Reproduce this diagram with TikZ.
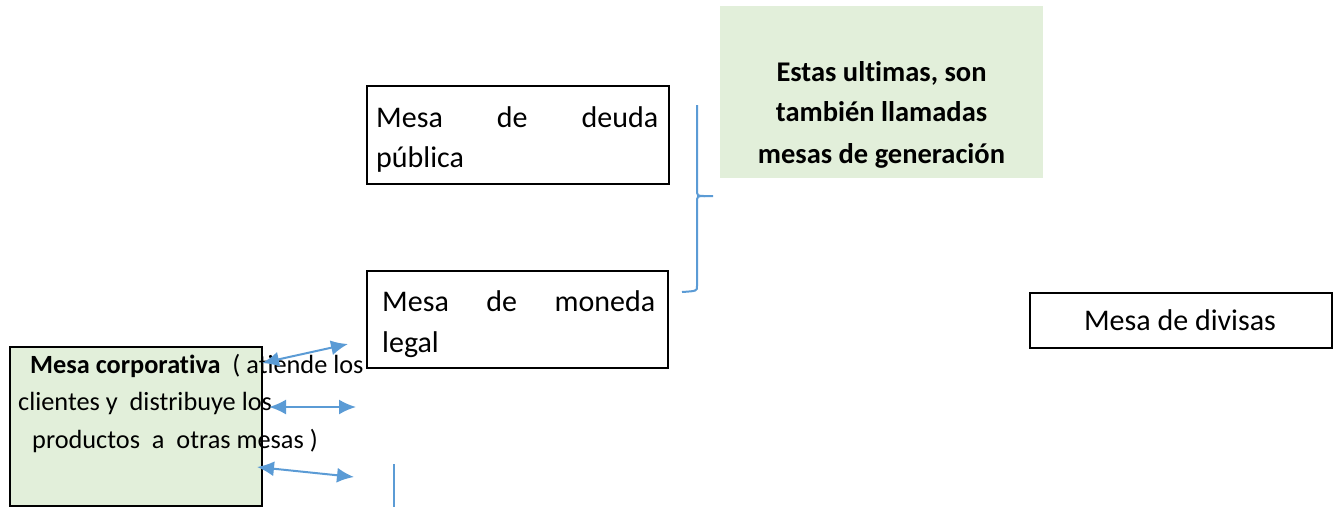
\documentclass[tikz,border=0pt]{standalone}
\usepackage{fontspec}
\setmainfont{Carlito}[Ligatures={NoCommon,NoContextual}]
\usetikzlibrary{arrows.meta}
\definecolor{lgreen}{HTML}{E2EFDA}
\definecolor{arrowblue}{HTML}{5B9BD5}
\begin{document}
\begin{tikzpicture}[x=1pt,y=-1pt,
  box/.style={draw=black, line width=2.3pt, anchor=north west, inner sep=0pt},
  gbox/.style={fill=lgreen, anchor=north west, inner sep=0pt},
  txt/.style={font=\fontsize{30}{40}\selectfont, inner sep=0pt, anchor=base west},
  ctxt/.style={font=\fontsize{28.5}{40}\selectfont\bfseries, inner sep=0pt, anchor=base},
  corp/.style={font=\fontsize{26.3}{38}\selectfont, inner sep=0pt, anchor=base west},
  blue line/.style={draw=arrowblue, line width=2pt},
  link/.style={blue line, {Latex[length=17pt,width=15pt]}-{Latex[length=17pt,width=15pt]}}]
\useasboundingbox (0,0) rectangle (1340,507);

% top-right green note
\node[gbox, minimum width=323pt, minimum height=172pt] (note) at (720,6) {};
\node[ctxt] (note1) at (881.5,81.5) {Estas ultimas, son};
\node[ctxt] (note2) at (881.5,121.5) {también llamadas};
\node[ctxt] (note3) at (881.5,163) {mesas de generación};

% Mesa de deuda publica
\node[box, minimum width=302pt, minimum height=98pt] (deuda) at (366,85) {};
\node[txt] (deuda1) at (376,127) {\makebox[282pt][s]{Mesa de deuda}};
\node[txt] (deuda2) at (376,167) {pública};

% Mesa de moneda legal
\node[box, minimum width=301pt, minimum height=97pt] (moneda) at (366,270) {};
\node[txt] (moneda1) at (382,311) {\makebox[273pt][s]{Mesa de moneda}};
\node[txt] (moneda2) at (382,352) {legal};

% Mesa de divisas
\node[box, minimum width=302pt, minimum height=55pt] (divisas) at (1029,292) {};
\node[txt, anchor=base] (divisas1) at (1180,330) {Mesa de divisas};

% Mesa corporativa
\node[box, fill=lgreen, minimum width=252pt, minimum height=159pt] (corp) at (9,346) {};
\node[corp] (corp1) at (30,373) {\textbf{Mesa corporativa}\ \ ( atiende los};
\node[corp] (corp2) at (18,410) {clientes y\ \ distribuye los};
\node[corp] (corp3) at (32,448) {productos\ \ a\ \ otras mesas )};

% brace
\coordinate (bt) at (697,105);
\coordinate (bm) at (713,196);
\coordinate (bb) at (682,292);
\draw[blue line] (bt) -- (697,189) .. controls (697,196) .. (705,196) -- (bm);
\draw[blue line] (705,196) .. controls (697,196) .. (697,203) -- (697,286) .. controls (697,291) .. (bb);

% arrows
\coordinate (a1l) at (262,363);
\coordinate (a1r) at (348,344);
\coordinate (a2l) at (269,407);
\coordinate (a2r) at (356,407);
\coordinate (a3l) at (257,467);
\coordinate (a3r) at (354,477);
\draw[link] (a1l) -- (a1r);
\draw[link] (a2l) -- (a2r);
\draw[link] (a3l) -- (a3r);

% vertical line
\coordinate (v1) at (394,464);
\coordinate (v2) at (394,507);
\draw[blue line] (v1) -- (v2);
\end{tikzpicture}
\end{document}
